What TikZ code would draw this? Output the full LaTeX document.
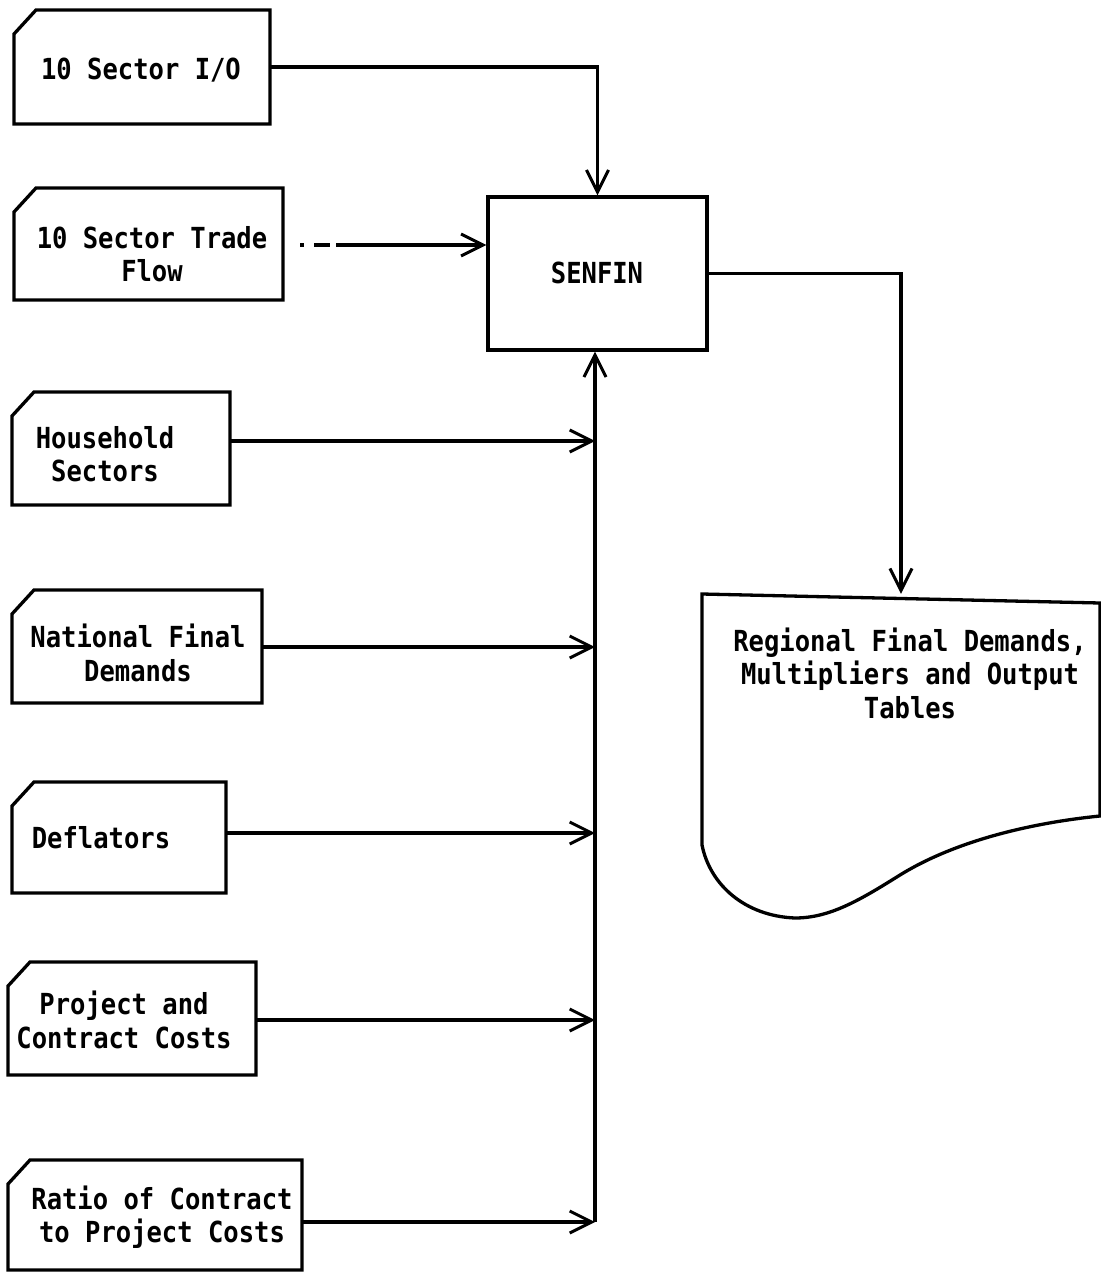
\documentclass[tikz,border=0pt]{standalone}
\usepackage{fontspec}
\setmonofont[FakeStretch=0.88]{DejaVu Sans Mono}
\usetikzlibrary{arrows.meta}
\newcommand\cardshape[6]{%
  \draw[cardline] ({#2+22},#3) -- (#4,#3) -- (#4,#5) -- (#2,#5) -- (#2,{#3+24}) -- cycle;
  \node[inner sep=0pt,minimum width={(#4-#2)*1pt},minimum height={(#5-#3)*1pt}] (#1) at ({(#2+#4)/2},{(#3+#5)/2}) {};
  \node[txt] (#1t) at #6;
}
\begin{document}
\begin{tikzpicture}[x=1pt,y=-1pt,
  cardline/.style={line width=3.3pt,line join=miter},
  txt/.style={font=\ttfamily\bfseries\fontsize{29}{33.5}\selectfont,align=center,inner sep=0pt},
  arr/.style={line width=3.3pt,-{Straight Barb[length=22pt,width=22pt,line width=3pt]}},
  conn/.style={line width=3.3pt}]
\useasboundingbox (0,0) rectangle (1100,1273);
\fill[white] (0,0) rectangle (1100,1273);

\cardshape{c1}{14}{10}{270}{124}{(141,70) {10 Sector I/O}}
\cardshape{c2}{14}{188}{283}{300}{(152,254) {10 Sector Trade\\Flow}}
\cardshape{c3}{12}{392}{230}{505}{(105,454) {Household\\Sectors}}
\cardshape{c4}{12}{590}{262}{703}{(138,653) {National Final\\Demands}}
\cardshape{c5}{12}{782}{226}{893}{(101,838) {Deflators}}
\cardshape{c6}{8}{962}{256}{1075}{(124,1020) {Project and\\Contract Costs}}
\cardshape{c7}{8}{1160}{302}{1270}{(162,1217) {Ratio of Contract\\to Project Costs}}

% SENFIN
\node[draw,line width=3.3pt,minimum width=219pt,minimum height=153pt,inner sep=0pt] (senfin) at (597.5,273.5) {};
\node[txt] (senfint) at (597,273) {SENFIN};

% output document
\draw[cardline] (702,845) -- (702,594) -- (1100,603) -- (1100,816)
  .. controls (1040,822) and (960,838) .. (900,875)
  .. controls (860,900) and (830,918) .. (795,918)
  .. controls (745,916) and (710,885) .. (702,845) -- cycle;
\node[inner sep=0pt,minimum width=398pt,minimum height=220pt] (out) at (901,704) {};
\node[txt] (outt) at (910,673) {Regional Final Demands,\\Multipliers and Output\\Tables};

% connectors
\draw[arr] (c1.east) -| (senfin.north);
\draw[arr,dash pattern=on 4pt off 10pt on 16pt off 6pt on 400pt] ([xshift=17pt]c2.east |- 0,245) -- (senfin.west |- 0,245);
\draw[arr] (senfin.east) -| (out.north);
\coordinate (busb) at (595,1222);
\draw[arr] (busb) -- (busb |- senfin.south);
\draw[arr] (c3.east |- 0,441) -- (busb |- 0,441);
\draw[arr] (c4.east |- 0,647) -- (busb |- 0,647);
\draw[arr] (c5.east |- 0,833) -- (busb |- 0,833);
\draw[arr] (c6.east |- 0,1020) -- (busb |- 0,1020);
\draw[arr] (c7.east |- busb) -- (busb);
\end{tikzpicture}
\end{document}
